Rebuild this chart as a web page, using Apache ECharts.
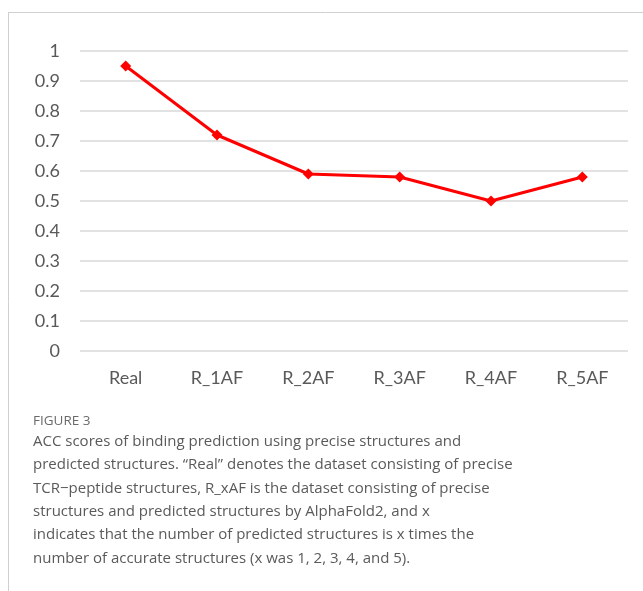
<!DOCTYPE html>
<html>
<head>
<meta charset="utf-8">
<script src="https://cdn.jsdelivr.net/npm/echarts@6/dist/echarts.min.js"></script>
<style>
  html, body { margin: 0; padding: 0; background: #fff; }
  #chart { width: 643px; height: 591px; }
</style>
</head>
<body>
<div id="chart"></div>
<script>
const categories = ["Real", "R_1AF", "R_2AF", "R_3AF", "R_4AF", "R_5AF"];
const accScores = [0.95, 0.72, 0.59, 0.58, 0.5, 0.58];
const yTicks = [0, 0.1, 0.2, 0.3, 0.4, 0.5, 0.6, 0.7, 0.8, 0.9, 1];

const captionTitle = "FIGURE 3";
const captionLines = [
  "ACC scores of binding prediction using precise structures and",
  "predicted structures. \u201CReal\u201D denotes the dataset consisting of precise",
  "TCR\u2212peptide structures, R_xAF is the dataset consisting of precise",
  "structures and predicted structures by AlphaFold2, and x",
  "indicates that the number of predicted structures is x times the",
  "number of accurate structures (x was 1, 2, 3, 4, and 5)."
];

const chart = echarts.init(document.getElementById("chart"));

// 图注文字和外框线
const graphics = [
  { type: "line", shape: { x1: 8, y1: 12.5, x2: 643, y2: 12.5 }, style: { stroke: "#d0d0d0", lineWidth: 1 } },
  { type: "line", shape: { x1: 8.5, y1: 12, x2: 8.5, y2: 591 }, style: { stroke: "#d0d0d0", lineWidth: 1 } },
  {
    type: "text", left: 33, top: 414,
    style: { text: captionTitle, fill: "#6a6a6a", font: "13.5px 'Open Sans'" }
  }
];
captionLines.forEach((line, i) => {
  graphics.push({
    type: "text", left: 33, top: 434 + i * 23.4,
    style: { text: line, fill: "#5a5a5a", font: "15px 'Open Sans'" }
  });
});

const options = {
  animation: false,
  grid: { left: 80, right: 15, top: 51, bottom: 240 },
  xAxis: {
    type: "category",
    data: categories,
    axisLine: { show: false },
    axisTick: { show: false },
    axisLabel: { color: "#595959", fontSize: 18, fontFamily: "Lato", margin: 18 }
  },
  yAxis: {
    type: "value",
    min: 0,
    max: 1,
    interval: 0.1,
    axisLine: { show: false },
    axisTick: { show: false },
    axisLabel: {
      color: "#595959",
      fontSize: 18,
      fontFamily: "Lato",
      margin: 20,
      formatter: (v) => String(yTicks[Math.round(v * 10)])
    },
    splitLine: { lineStyle: { color: "#d9d9d9", width: 1.5 } }
  },
  series: [
    {
      type: "line",
      data: accScores,
      symbol: "diamond",
      symbolSize: 11,
      lineStyle: { color: "#ff0000", width: 3 },
      itemStyle: { color: "#ff0000" }
    }
  ],
  graphic: graphics
};

chart.setOption(options);
</script>
</body>
</html>
